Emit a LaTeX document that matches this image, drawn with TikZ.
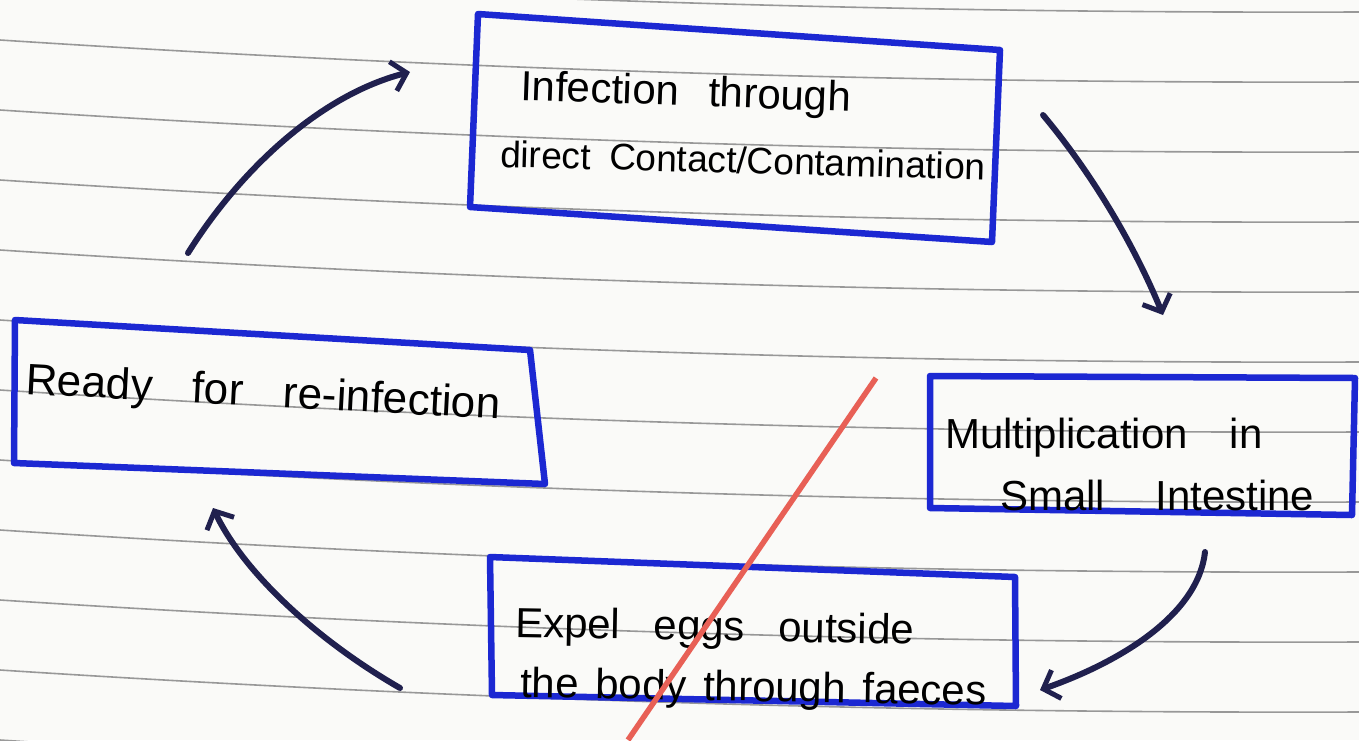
\documentclass[tikz,border=0pt]{standalone}
\usepackage{fontspec}
\setmainfont{Liberation Sans}
\usetikzlibrary{arrows.meta}
\definecolor{penblue}{RGB}{28,40,210}
\definecolor{inkarrow}{RGB}{32,32,78}
\definecolor{redline}{RGB}{232,96,86}
\definecolor{ruled}{RGB}{120,120,120}
\definecolor{paper}{RGB}{250,250,248}
\newcommand{\wspc}[1]{\spaceskip=#1\relax}
\newcommand{\handfont}[1]{\fontsize{#1}{48}\selectfont}
\begin{document}
\begin{tikzpicture}[x=1pt,y=-1pt,
  box/.style={draw=penblue,line width=6.5pt,line join=round,line cap=round},
  flow/.style={draw=inkarrow,line width=6pt,line cap=round,
    -{Straight Barb[length=14pt,width=30pt,line width=5pt]}},
  ruleline/.style={draw=ruled,line width=1.6pt,opacity=0.75},
  hand/.style={anchor=base west,inner sep=0pt,text=black,font=\handfont{42}},
]
\useasboundingbox[fill=paper] (0,0) rectangle (1359,740);

% ruled paper lines
\foreach \yy in {-30,40,110,180,250,320,390,460,530,600,670,740}
  \draw[ruleline] (0,\yy) .. controls (453,\yy+29.5) and (906,\yy+43.5) .. (1359,\yy+42);

% box corners
\coordinate (b1nw) at (478,14);  \coordinate (b1ne) at (1000,50);
\coordinate (b1se) at (992,242); \coordinate (b1sw) at (470,207);
\coordinate (b2nw) at (15,320);  \coordinate (b2ne) at (530,350);
\coordinate (b2se) at (545,484); \coordinate (b2sw) at (14,463);
\coordinate (b3nw) at (930,376); \coordinate (b3ne) at (1355,378);
\coordinate (b3se) at (1352,515);\coordinate (b3sw) at (930,508);
\coordinate (b4nw) at (490,557); \coordinate (b4ne) at (1015,577);
\coordinate (b4se) at (1016,706);\coordinate (b4sw) at (492,695);

\draw[box] (b1nw) -- (b1ne) -- (b1se) -- (b1sw) -- cycle;
\draw[box] (b2nw) -- (b2ne) -- (b2se) -- (b2sw) -- cycle;
\draw[box] (b3nw) -- (b3ne) -- (b3se) -- (b3sw) -- cycle;
\draw[box] (b4nw) -- (b4ne) -- (b4se) -- (b4sw) -- cycle;

% texts
\node[hand,rotate=-2] (t1a) at (520,100) {\wspc{0.7em}Infection through};
\node[hand,rotate=-1.5,font=\handfont{37}] (t1b) at (500,167) {\wspc{0.5em}direct Contact/Contamination};
\node[hand,rotate=-3,font=\handfont{44}] (t2a) at (25,394) {\wspc{0.9em}Ready for re-infection};
\node[hand] (t3a) at (945,448) {\wspc{1em}Multiplication in};
\node[hand] (t3b) at (1000,510) {\wspc{1.2em}Small Intestine};
\node[hand,rotate=-1] (t4a) at (515,637) {\wspc{0.8em}Expel eggs outside};
\node[hand,rotate=-1] (t4b) at (520,697) {\wspc{0.4em}the body through faeces};

% arrow end points
\coordinate (a1s) at (188,253);  \coordinate (a1e) at (410,72);
\coordinate (a2s) at (1043,115); \coordinate (a2e) at (1163,315);
\coordinate (a3s) at (1205,552); \coordinate (a3e) at (1040,690);
\coordinate (a4s) at (400,688);  \coordinate (a4e) at (213,508);

\draw[flow] (a1s) .. controls (240,170) and (320,95) .. (a1e);
\draw[flow] (a2s) .. controls (1085,165) and (1130,235) .. (a2e);
\draw[flow] (a3s) .. controls (1198,615) and (1120,662) .. (a3e);
\draw[flow] (a4s) .. controls (320,642) and (245,575) .. (a4e);

% red stroke
\coordinate (r1) at (876,378); \coordinate (r2) at (628,740);
\draw[redline,line width=5.5pt] (r1) -- (r2);
\end{tikzpicture}
\end{document}
